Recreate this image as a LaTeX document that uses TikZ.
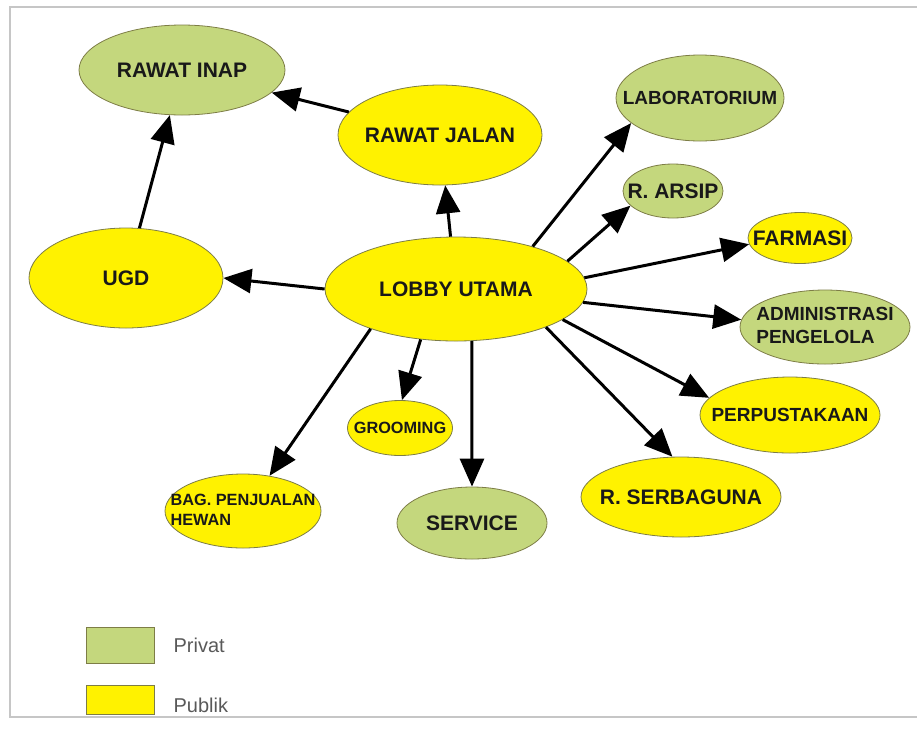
\documentclass[tikz,border=0pt]{standalone}
\usepackage{fontspec}
\setmainfont{Liberation Sans}
\usepackage{tikz}
\usetikzlibrary{shapes.geometric, arrows.meta, positioning}
\definecolor{privat}{RGB}{196,215,125}
\definecolor{publik}{RGB}{255,242,0}
\definecolor{rim}{RGB}{125,125,70}
\newcommand{\roomname}[1]{\makebox[0pt]{#1}}

\begin{document}
\begin{tikzpicture}[x=1pt, y=-1pt,
  room/.style={ellipse, draw=rim, line width=0.8pt, inner sep=0pt, text=black!90, font=\bfseries\fontsize{21}{24}\selectfont},
  pv/.style={room, fill=privat},
  pb/.style={room, fill=publik},
  midtxt/.style={font=\bfseries\fontsize{19}{23}\selectfont},
  smalltxt/.style={font=\bfseries\fontsize{16.3}{20}\selectfont},
  link/.style={line width=3pt, -{Triangle[length=28pt, width=24pt]}},
  swatch/.style={draw=rim, line width=0.8pt, minimum width=68pt, inner sep=0pt},
  key/.style={text=black!65, font=\fontsize{20}{24}\selectfont, inner sep=0pt}]
\useasboundingbox (0,0) rectangle (917,729);
\draw[gray!45, line width=1.2pt] (917,7) -- (10,7) -- (10,717) -- (917,717);

\node[pv, minimum width=206pt, minimum height=90pt] (rinap) at (182,70) {\roomname{RAWAT INAP}};
\node[pb, minimum width=204pt, minimum height=100pt] (rjalan) at (440,135) {\roomname{RAWAT JALAN}};
\node[pb, minimum width=194pt, minimum height=100pt] (ugd) at (126,278) {\roomname{UGD}};
\node[pb, minimum width=262pt, minimum height=104pt] (lobby) at (456,289) {\roomname{LOBBY UTAMA}};
\node[pv, midtxt, minimum width=168pt, minimum height=86pt] (lab) at (700,98) {\roomname{LABORATORIUM}};
\node[pv, minimum width=100pt, minimum height=54pt] (arsip) at (673,191) {\roomname{R. ARSIP}};
\node[pb, minimum width=104pt, minimum height=51pt] (farmasi) at (800,238) {\roomname{FARMASI}};
\node[pv, midtxt, minimum width=170pt, minimum height=74pt] (admin) at (825,327) {\roomname{\begin{tabular}{@{}l@{}}ADMINISTRASI\\PENGELOLA\end{tabular}}};
\node[pb, midtxt, minimum width=180pt, minimum height=76pt] (perpus) at (790,415) {\roomname{PERPUSTAKAAN}};
\node[pb, minimum width=200pt, minimum height=80pt] (serba) at (681,497) {\roomname{R. SERBAGUNA}};
\node[pv, minimum width=150pt, minimum height=72pt] (service) at (472,523) {\roomname{SERVICE}};
\node[pb, smalltxt, minimum width=105pt, minimum height=55pt] (groom) at (400,428) {\roomname{GROOMING}};
\node[pb, smalltxt, minimum width=156pt, minimum height=74pt] (bag) at (243,511) {\roomname{\begin{tabular}{@{}l@{}}BAG. PENJUALAN\\HEWAN\end{tabular}}};

\draw[link] (rjalan) -- (rinap);
\draw[link] (ugd) -- (rinap);
\draw[link] (lobby) -- (rjalan);
\draw[link] (lobby.west) -- (ugd.east);
\foreach \a/\b in {29/lab.200, 14/arsip.199, 5/farmasi.187, -6/admin.175, -16/perpus.168,
                   -23/serba.102, 287/service.north, 235/groom.86, 205/bag.53}
  \draw[link] (lobby.\a) -- (\b);

\node[swatch, fill=privat, minimum height=36pt] (kpriv) at (120,645) {};
\node[key, right=19pt of kpriv] (tpriv) {Privat};
\node[swatch, fill=publik, minimum height=29pt] (kpub) at (120,700) {};
\node[key, right=19pt of kpub, yshift=-5pt] (tpub) {Publik};
\end{tikzpicture}
\end{document}
